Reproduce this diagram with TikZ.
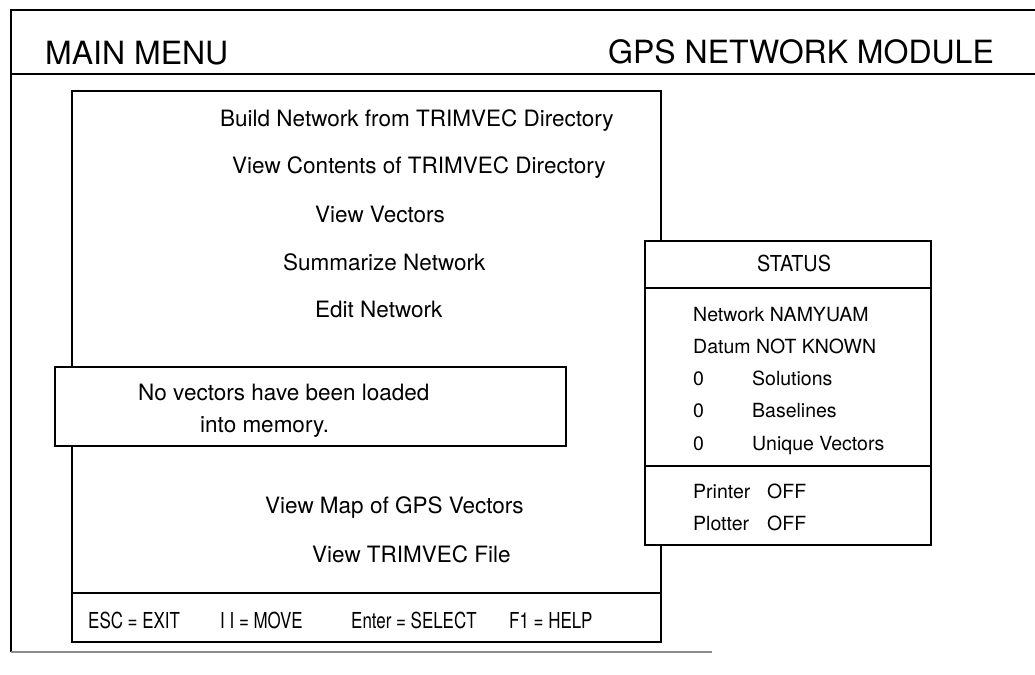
\documentclass[tikz,border=0pt]{standalone}
\usepackage{fontspec}
\setmainfont{TeX Gyre Heros}
\newfontfamily\condfont[FakeStretch=0.77]{TeX Gyre Heros}
\newfontfamily\titlefont[FakeStretch=0.9]{TeX Gyre Heros}
\begin{document}
\begin{tikzpicture}[x=1pt,y=-1pt,
  txt/.style={inner sep=0pt, anchor=base west},
  hdr/.style={txt, font=\fontsize{32}{38}\selectfont},
  menu/.style={txt, font=\fontsize{22.5}{27}\selectfont},
  stat/.style={txt, font=\fontsize{19.5}{23}\selectfont},
  stattitle/.style={txt, font=\titlefont\fontsize{22}{26}\selectfont},
  foot/.style={txt, font=\condfont\fontsize{22}{26}\selectfont},
  frame/.style={line width=1.4pt},
  box/.style={line width=1.9pt, fill=white}]
\useasboundingbox (0,0) rectangle (1035,674);
% outer frame
\draw[frame] (1035,10) -- (11,10) -- (11,652);
\draw[line width=1.2pt, black!45] (11,652) -- (712,652);
\draw[frame] (11,74) -- (1035,74);
\node[hdr] (mainmenu) at (45,65) {MAIN MENU};
\node[hdr] (module) at (608,64) {GPS NETWORK MODULE};
% main menu box
\draw[box] (72,91) rectangle (661,642);
\draw[line width=1.9pt] (72,593) -- (661,593);
\node[menu] (m1) at (220,126) {Build Network from TRIMVEC Directory};
\node[menu] (m2) at (232,173) {View Contents of TRIMVEC Directory};
\node[menu] (m3) at (315,222) {View Vectors};
\node[menu] (m4) at (283,270) {Summarize Network};
\node[menu] (m5) at (315,317) {Edit Network};
\node[menu] (m6) at (265,513) {View Map of GPS Vectors};
\node[menu] (m7) at (312,562) {View TRIMVEC File};
% footer
\node[foot] (f1) at (88,628) {ESC = EXIT};
\node[foot] (f2) at (220,628) {I I = MOVE};
\node[foot] (f3) at (351,628) {Enter = SELECT};
\node[foot] (f4) at (509,628) {F1 = HELP};
% message box
\draw[box] (55,367) rectangle (566,446);
\node[menu] (msg1) at (138,400) {No vectors have been loaded};
\node[menu] (msg2) at (200,432) {into memory.};
% status box
\draw[box] (645,241) rectangle (931,545);
\draw[line width=1.9pt] (645,288) -- (931,288);
\draw[line width=1.9pt] (645,466) -- (931,466);
\node[stattitle] (st) at (757,271) {STATUS};
\node[stat] (s1) at (693,321) {Network NAMYUAM};
\node[stat] (s2) at (693,353) {Datum NOT KNOWN};
\node[stat] (s3a) at (693,385) {0};
\node[stat] (s3b) at (752,385) {Solutions};
\node[stat] (s4a) at (693,417) {0};
\node[stat] (s4b) at (752,417) {Baselines};
\node[stat] (s5a) at (693,450) {0};
\node[stat] (s5b) at (752,450) {Unique Vectors};
\node[stat] (p1a) at (693,498) {Printer};
\node[stat] (p1b) at (767,498) {OFF};
\node[stat] (p2a) at (693,530) {Plotter};
\node[stat] (p2b) at (767,530) {OFF};
\end{tikzpicture}
\end{document}
